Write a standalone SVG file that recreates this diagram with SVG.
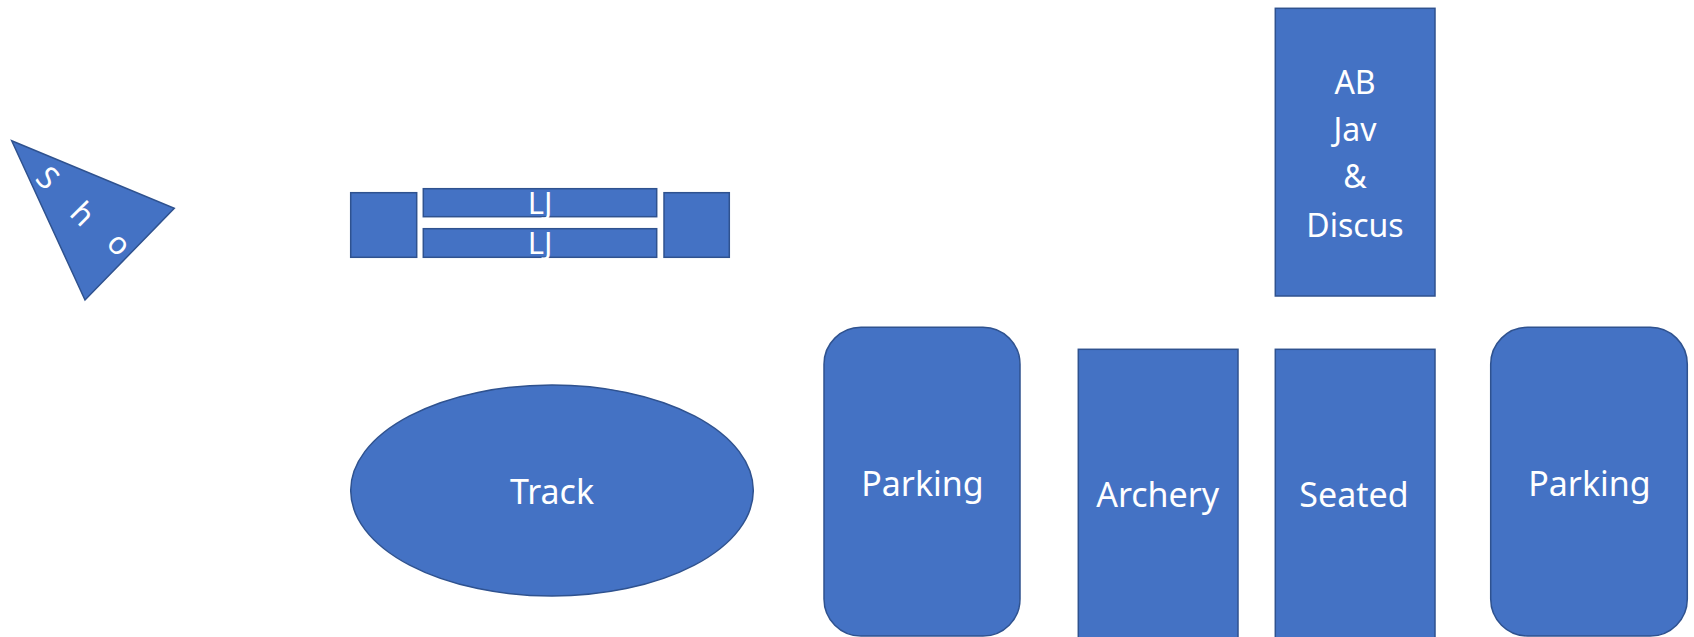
<svg xmlns="http://www.w3.org/2000/svg" width="1694" height="637" viewBox="0 0 1694 637">
  <style>
    .shape { fill: #4472C4; stroke: #2F528F; stroke-width: 1.5; }
    .lbl { fill: #FFFFFF; font-family: "Noto Sans", "Open Sans", sans-serif; font-size: 34px; text-anchor: middle; }
    .sm { font-size: 32px; }
    .lj { font-size: 31px; }
  </style>
  <rect width="1694" height="637" fill="#FFFFFF"/>
  <g id="shot">
    <polygon class="shape" points="11.7,140.7 174.3,208.3 85,300"/>
    <text class="lbl lj" dominant-baseline="central" transform="translate(48.5,177) rotate(45)">S</text>
    <text class="lbl lj" dominant-baseline="central" transform="translate(83.5,213) rotate(45)">h</text>
    <text class="lbl lj" dominant-baseline="central" transform="translate(120,243) rotate(45)">o</text>
  </g>
  <g id="lj-left">
    <rect class="shape" x="350.7" y="192.7" width="66" height="64.6"/>
  </g>
  <g id="lj-top">
    <rect class="shape" x="423.3" y="188.7" width="233.4" height="28"/>
    <text class="lbl lj" x="540" y="214">LJ</text>
  </g>
  <g id="lj-bottom">
    <rect class="shape" x="423.3" y="228.7" width="233.4" height="28.6"/>
    <text class="lbl lj" x="540" y="254">LJ</text>
  </g>
  <g id="lj-right">
    <rect class="shape" x="664" y="192.7" width="65.3" height="64.6"/>
  </g>
  <g id="track">
    <ellipse class="shape" cx="552" cy="490.5" rx="201.3" ry="105.5"/>
    <text class="lbl" x="552" y="504">Track</text>
  </g>
  <g id="parking-left">
    <rect class="shape" x="824" y="327.3" width="196" height="308.7" rx="37" ry="37"/>
    <text class="lbl" x="922.5" y="495.7">Parking</text>
  </g>
  <g id="archery">
    <rect class="shape" x="1078.3" y="349.3" width="159.7" height="300"/>
    <text class="lbl" x="1157.7" y="506.7">Archery</text>
  </g>
  <g id="ab-jav-discus">
    <rect class="shape" x="1275.3" y="8.3" width="159.7" height="287.7"/>
    <text class="lbl sm" x="1355" y="94">AB</text>
    <text class="lbl sm" x="1355" y="141">Jav</text>
    <text class="lbl sm" x="1355" y="188">&amp;</text>
    <text class="lbl sm" x="1355" y="237">Discus</text>
  </g>
  <g id="seated">
    <rect class="shape" x="1275.3" y="349.3" width="159.7" height="300"/>
    <text class="lbl" x="1354" y="507.3">Seated</text>
  </g>
  <g id="parking-right">
    <rect class="shape" x="1490.7" y="327.3" width="196.6" height="308.7" rx="37" ry="37"/>
    <text class="lbl" x="1589.5" y="495.7">Parking</text>
  </g>
  <g id="connectors"/>
</svg>
